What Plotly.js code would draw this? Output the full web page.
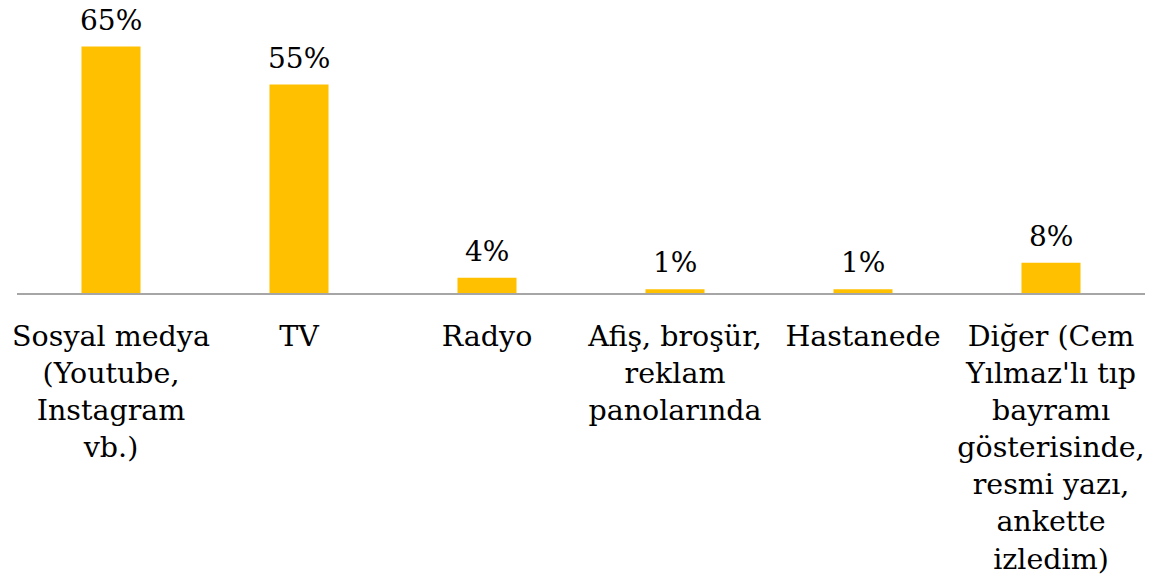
<!DOCTYPE html>
<html>
<head>
<meta charset="utf-8">
<script src="https://cdn.plot.ly/plotly-3.0.1.min.js"></script>
<style>html,body{margin:0;padding:0;background:#fff;}#chart{width:1175px;height:578px;}</style>
</head>
<body>
<div id="chart"></div>
<script>
const categories = [
  "Sosyal medya<br>(Youtube,<br>Instagram<br>vb.)",
  "TV",
  "Radyo",
  "Afiş, broşür,<br>reklam<br>panolarında",
  "Hastanede",
  "Diğer (Cem<br>Yılmaz'lı tıp<br>bayramı<br>gösterisinde,<br>resmi yazı,<br>ankette<br>izledim)"
];
const values = [65, 55, 4, 1, 1, 8];
const valueLabels = ["65%", "55%", "4%", "1%", "1%", "8%"];

const FONT = "DejaVu Serif, serif";

const trace = {
  type: "bar",
  x: categories,
  y: values,
  marker: {color: "#FFC000"},
  hoverinfo: "skip"
};

const annotations = categories.map((c, i) => ({
  x: c, y: values[i], xref: "x", yref: "y",
  text: valueLabels[i], showarrow: false,
  yanchor: "bottom", yshift: 8,
  font: {family: FONT, size: 28, color: "#000"}
}));

const layout = {
  width: 1175, height: 578,
  margin: {l: 17, r: 30, t: 0, b: 285},
  paper_bgcolor: "#fff", plot_bgcolor: "#fff",
  bargap: 0.686,
  showlegend: false,
  xaxis: {
    type: "category",
    showline: true, linecolor: "#a6a6a6", linewidth: 2,
    ticks: "", showgrid: false, zeroline: false,
    tickfont: {family: FONT, size: 28.5, color: "#000"},
    tickangle: 0,
    ticklabelstandoff: 17
  },
  yaxis: {
    range: [0, 77.3],
    visible: false, showgrid: false, zeroline: false
  },
  annotations: annotations
};

Plotly.newPlot("chart", [trace], layout, {displayModeBar: false, staticPlot: true});
</script>
</body>
</html>
